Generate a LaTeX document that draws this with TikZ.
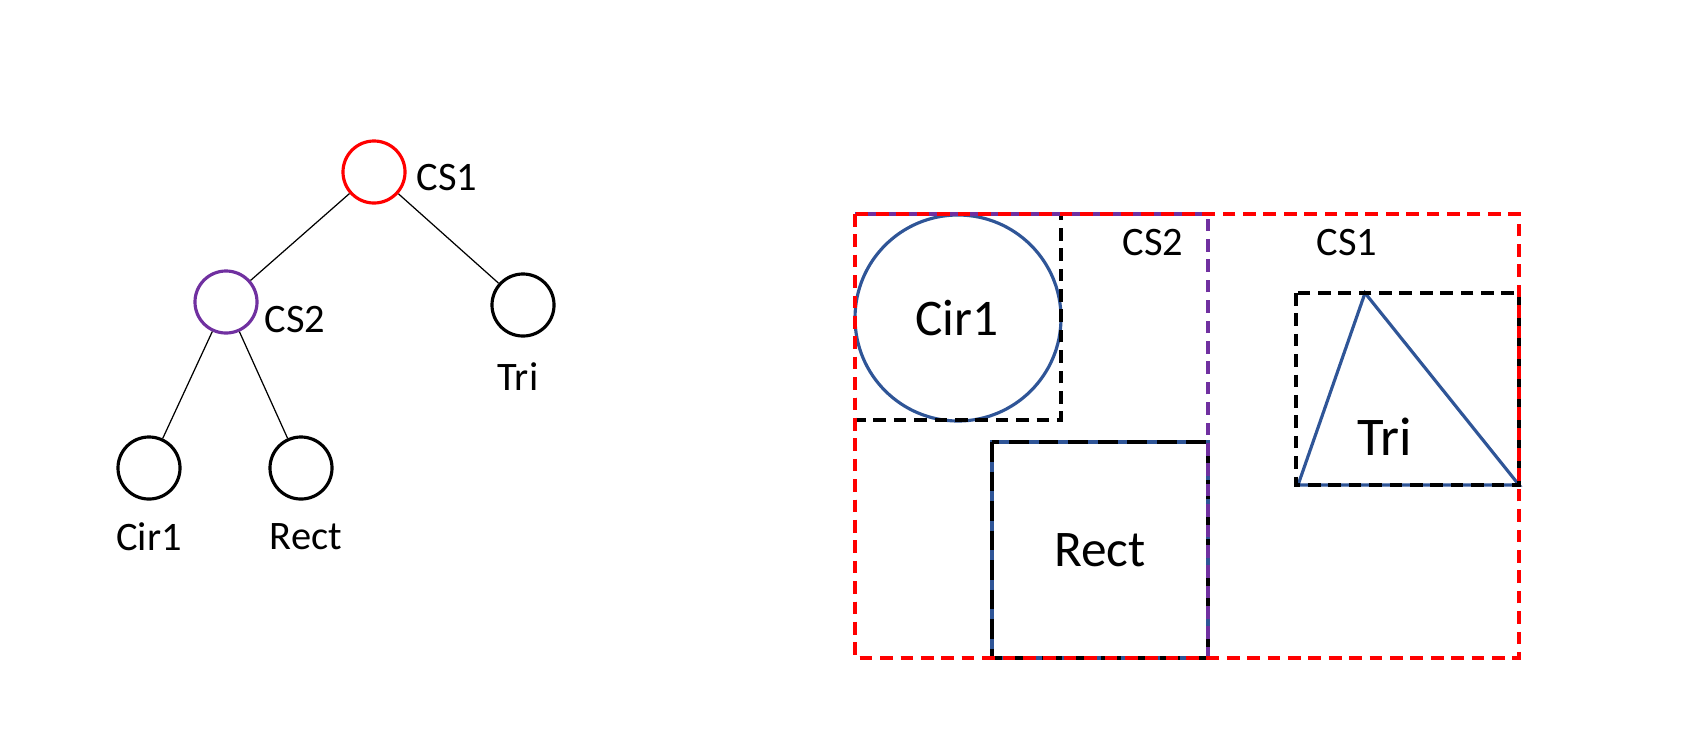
\documentclass[tikz,border=0pt]{standalone}
\usepackage{fontspec}
\setmainfont{Carlito}
\definecolor{cspurple}{RGB}{112,48,160}
\definecolor{shapeblue}{RGB}{47,85,151}
\tikzset{
  treenode/.style={circle, draw, line width=0.9pt, minimum size=0.62cm, inner sep=0pt},
  treeedge/.style={line width=0.35pt},
  smalltext/.style={inner sep=0pt, font=\fontsize{11.5}{14}\selectfont},
  bigtext/.style={inner sep=0pt, font=\fontsize{14.6}{17}\selectfont},
  boxline/.style={dash pattern=on 3.6pt off 2.2pt, line width=1pt},
  shapeline/.style={draw=shapeblue, line width=0.9pt},
}
\begin{document}
\begin{tikzpicture}[x=0.01cm,y=-0.01cm]
\useasboundingbox (0,0) rectangle (1704,730);
% Tree
\node[treenode, draw=red] (cs1) at (374,172) {};
\node[treenode, draw=cspurple] (cs2) at (226,302) {};
\node[treenode] (tri) at (523,305) {};
\node[treenode] (cir) at (149,468) {};
\node[treenode] (rect) at (301,468) {};
\node[smalltext] (cs1lab) at (447,178) {CS1};
\node[smalltext] (cs2lab) at (295,320) {CS2};
\node[smalltext] (trilab) at (518,377) {Tri};
\node[smalltext] (cirlab) at (149,537) {Cir1};
\node[smalltext] (rectlab) at (306,537) {Rect};
\draw[treeedge] (cs1) -- (cs2);
\draw[treeedge] (cs1) -- (tri);
\draw[treeedge] (cs2) -- (cir);
\draw[treeedge] (cs2) -- (rect);
% Layout with bounding boxes
\draw[shapeline] (958,318) circle[radius=103];
\draw[shapeline] (992,442) rectangle (1208,658);
\draw[shapeline] (1298,485) -- (1365,293) -- (1519,485) -- cycle;
\draw[boxline] (855,214) rectangle (1061,420);
\draw[boxline] (1296,293) rectangle (1519,485);
\draw[boxline, dash pattern=on 5.6pt off 2.8pt, line width=1.2pt] (992,442) rectangle (1208,658);
\draw[boxline, cspurple] (855,214) rectangle (1208,658);
\draw[boxline, red] (855,214) rectangle (1519,658);
\node[bigtext] (cirtxt) at (957,318) {Cir1};
\node[bigtext] (recttxt) at (1100,550) {Rect};
\node[bigtext, font=\fontsize{15.5}{18}\selectfont] (tritxt) at (1385,437) {Tri};
\node[smalltext] (cs2txt) at (1153,243) {CS2};
\node[smalltext] (cs1txt) at (1347,243) {CS1};
\end{tikzpicture}
\end{document}
